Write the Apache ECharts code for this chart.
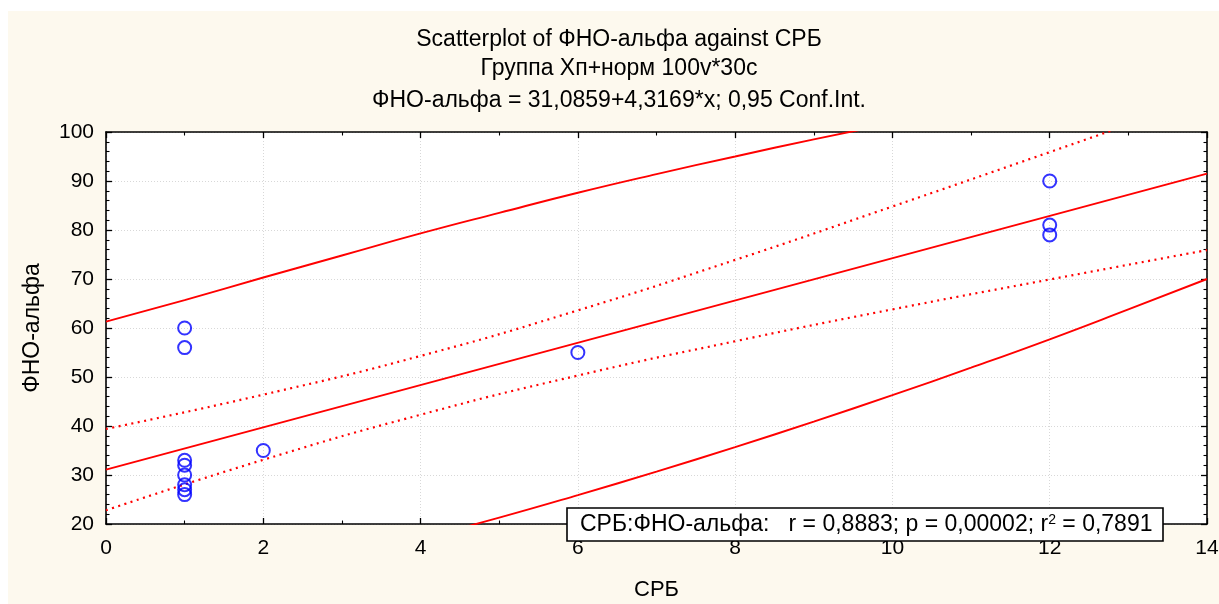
<!DOCTYPE html>
<html>
<head>
<meta charset="utf-8">
<script src="https://cdn.jsdelivr.net/npm/echarts@6/dist/echarts.min.js"></script>
<style>
html,body{margin:0;padding:0;background:#ffffff;}
#bg{position:absolute;left:8px;top:11px;width:1211px;height:593px;background:#fdf9ee;}
#chart{position:absolute;left:0;top:0;width:1219px;height:604px;}
</style>
</head>
<body>
<div id="bg"></div>
<div id="chart"></div>
<script>
// Observations (СРБ, ФНО-альфа)
const crp = [1, 1, 1, 1, 1, 1, 1, 1, 2, 6, 12, 12, 12];
const tnf = [60, 56, 33, 32, 30, 28, 27, 26, 35, 55, 90, 81, 79];

// Regression line (read at the ends)
const fitX = [0, 14];
const fitY = [31.1, 91.5];

// 0.95 confidence band for the mean (dotted)
const ciX = [0, 2, 4, 6, 8, 10, 12, 14];
const ciUpper = [39.4, 46.4, 54.3, 63.6, 73.9, 84.8, 95.9, 107.1];
const ciLower = [22.8, 33.1, 42.3, 50.3, 57.3, 63.8, 69.9, 75.9];

// Outer solid bands
const outUpX = [0, 1, 2, 3, 4, 5, 6, 7, 8, 9, 10];
const outUp = [61.3, 65.7, 70.3, 74.8, 79.3, 83.5, 87.6, 91.4, 95.0, 98.5, 101.8];
const outLoX = [4, 5, 6, 7, 8, 9, 10, 11, 12, 13, 14];
const outLo = [17.0, 21.3, 25.9, 30.7, 35.7, 40.9, 46.3, 51.9, 57.7, 63.8, 70.0];

const titleLines = [
  'Scatterplot of ФНО-альфа against СРБ',
  'Группа Хп+норм 100v*30c',
  'ФНО-альфа = 31,0859+4,3169*x; 0,95 Conf.Int.'
];
const xName = 'СРБ';
const yName = 'ФНО-альфа';

const zip = (xs, ys) => xs.map((x, i) => [x, ys[i]]);
const FONT = '"Liberation Sans", Arial, sans-serif';

const chart = echarts.init(document.getElementById('chart'), null, {renderer: 'canvas'});

const axisLine = {show: true, onZero: false, lineStyle: {color: '#000', width: 1.6}};
const tick = {show: true, inside: true, length: 6, lineStyle: {color: '#000', width: 1.3}};
const minor = (n) => ({show: true, splitNumber: n, length: 3.5, lineStyle: {color: '#000', width: 1.1}});
const grid = {show: true, lineStyle: {color: '#d8d8d8', type: [1, 2], width: 1}};

const redSolid = {color: '#ff0000', width: 1.9};
const redDot = {color: '#ff0000', width: 2.2, type: [2, 4.5]};

chart.setOption({
  animation: false,
  backgroundColor: 'transparent',
  textStyle: {fontFamily: FONT},
  grid: {left: 106, top: 132, right: 12, bottom: 80, show: true, backgroundColor: '#ffffff', borderWidth: 0,
         containLabel: false, outerBoundsMode: 'none'},
  xAxis: [
    {type: 'value', min: 0, max: 14, interval: 2, position: 'bottom',
     axisLine, axisTick: tick, minorTick: minor(2), splitLine: grid,
     axisLabel: {color: '#000', fontSize: 21, fontFamily: FONT, margin: 14},
     name: xName, nameLocation: 'middle', nameGap: 55,
     nameTextStyle: {color: '#000', fontSize: 22, fontFamily: FONT}},
    {type: 'value', min: 0, max: 14, interval: 2, position: 'top',
     axisLine, axisTick: tick, minorTick: minor(2), splitLine: {show: false},
     axisLabel: {show: false}}
  ],
  yAxis: [
    {type: 'value', min: 20, max: 100, interval: 10, position: 'left',
     axisLine, axisTick: tick, minorTick: minor(5), splitLine: grid,
     axisLabel: {color: '#000', fontSize: 21, fontFamily: FONT, margin: 12},
     name: yName, nameLocation: 'middle', nameGap: 62, nameRotate: 90,
     nameTextStyle: {color: '#000', fontSize: 23, fontFamily: FONT}},
    {type: 'value', min: 20, max: 100, interval: 10, position: 'right',
     axisLine, axisTick: tick, minorTick: minor(5), splitLine: {show: false},
     axisLabel: {show: false}}
  ],
  series: [
    {type: 'line', data: zip(outUpX, outUp), smooth: true, symbol: 'none', lineStyle: redSolid, clip: true, z: 3},
    {type: 'line', data: zip(outLoX, outLo), smooth: true, symbol: 'none', lineStyle: redSolid, clip: true, z: 3},
    {type: 'line', data: zip(ciX, ciUpper), smooth: true, symbol: 'none', lineStyle: redDot, clip: true, z: 3},
    {type: 'line', data: zip(ciX, ciLower), smooth: true, symbol: 'none', lineStyle: redDot, clip: true, z: 3},
    {type: 'line', data: zip(fitX, fitY), symbol: 'none', lineStyle: redSolid, clip: true, z: 3},
    {type: 'scatter', data: zip(crp, tnf), symbol: 'circle', symbolSize: 13,
     itemStyle: {color: 'transparent', borderColor: '#0000ff', borderWidth: 2}, z: 4}
  ],
  graphic: [
    {type: 'text', x: 619, y: 40, style: {text: titleLines[0], fill: '#000', font: '23px ' + FONT, textAlign: 'center', textVerticalAlign: 'middle'}},
    {type: 'text', x: 619, y: 69, style: {text: titleLines[1], fill: '#000', font: '23px ' + FONT, textAlign: 'center', textVerticalAlign: 'middle'}},
    {type: 'text', x: 619, y: 101, style: {text: titleLines[2], fill: '#000', font: '23px ' + FONT, textAlign: 'center', textVerticalAlign: 'middle'}},
    {type: 'rect', z: 100, shape: {x: 567, y: 508, width: 596, height: 33},
     style: {fill: '#ffffff', stroke: '#000', lineWidth: 1.6}},
    {type: 'text', z: 101, x: 580, y: 525,
     style: {
       text: 'СРБ:ФНО-альфа:   r = 0,8883; p = 0,00002; r{sup|2} = 0,7891',
       fill: '#000', font: '23px ' + FONT, textAlign: 'left', textVerticalAlign: 'middle',
       rich: {sup: {fontSize: 14, fontFamily: FONT, verticalAlign: 'top', padding: [0, 0, 10, 0], fill: '#000'}}
     }}
  ]
});
</script>
</body>
</html>
